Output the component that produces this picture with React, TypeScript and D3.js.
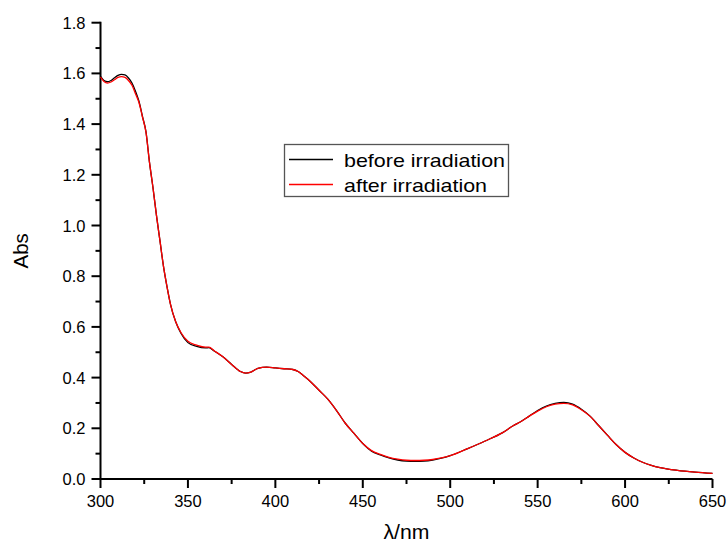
import React, { useEffect, useRef } from "react";
import * as d3 from "d3";

const wavelengths = [300,302,304,306,308,310,312,314,316,318,320,322,324,326,328,330,332,334,336,338,340,343,346,350,355,360,362,365,370,375,380,383,386,390,395,400,405,410,413,416,420,425,430,435,440,445,450,455,460,465,470,475,480,485,490,495,500,510,520,530,536,540,545,550,555,560,565,570,575,580,585,590,595,600,605,610,615,620,630,640,650];

const beforeAbs = [1.588,1.572,1.567,1.572,1.583,1.592,1.596,1.594,1.582,1.562,1.530,1.49,1.43,1.37,1.25,1.15,1.04,0.94,0.84,0.76,0.69,0.62,0.575,0.538,0.523,0.517,0.518,0.505,0.482,0.452,0.424,0.418,0.422,0.436,0.441,0.438,0.435,0.432,0.424,0.408,0.385,0.35,0.315,0.27,0.22,0.18,0.14,0.11,0.095,0.083,0.075,0.071,0.070,0.071,0.075,0.082,0.092,0.12,0.15,0.183,0.21,0.225,0.247,0.27,0.288,0.298,0.302,0.295,0.275,0.248,0.21,0.172,0.135,0.105,0.083,0.066,0.054,0.045,0.034,0.027,0.022];

const afterAbs = [1.585,1.568,1.562,1.566,1.575,1.584,1.587,1.584,1.572,1.553,1.52,1.485,1.428,1.368,1.25,1.15,1.04,0.94,0.84,0.76,0.69,0.62,0.578,0.543,0.528,0.52,0.52,0.506,0.482,0.452,0.424,0.418,0.422,0.436,0.441,0.438,0.435,0.432,0.424,0.408,0.385,0.35,0.315,0.27,0.22,0.18,0.14,0.112,0.097,0.085,0.078,0.074,0.073,0.074,0.077,0.083,0.092,0.12,0.15,0.183,0.21,0.225,0.247,0.268,0.285,0.295,0.298,0.292,0.273,0.247,0.21,0.172,0.135,0.105,0.083,0.066,0.054,0.045,0.034,0.027,0.022];

const xTicks = [300,350,400,450,500,550,600,650];
const xMinorTicks = [325,375,425,475,525,575,625];
const yTicks = [0.0,0.2,0.4,0.6,0.8,1.0,1.2,1.4,1.6,1.8];
const yMinorTicks = [0.1,0.3,0.5,0.7,0.9,1.1,1.3,1.5,1.7];
const seriesNames = ["before irradiation", "after irradiation"];
const seriesColors = ["#000000", "#ff0000"];

export default function App() {
  const ref = useRef<SVGSVGElement>(null);
  useEffect(() => {
    const svg = d3.select(ref.current);
    svg.selectAll("*").remove();
    const font = "'Liberation Sans', Arial, sans-serif";
    const x = d3.scaleLinear().domain([300, 650]).range([100.5, 712.5]);
    const y = d3.scaleLinear().domain([0, 1.8]).range([479, 22.7]);

    const g = svg.append("g");
    // x axis
    const xa = g.append("g").attr("transform", `translate(0,${y(0)})`);
    xa.append("line").attr("x1", x(300)).attr("x2", x(650)).attr("stroke", "#000").attr("stroke-width", 2);
    xTicks.forEach(t => {
      xa.append("line").attr("x1", x(t)).attr("x2", x(t)).attr("y1", 0).attr("y2", 9).attr("stroke", "#000").attr("stroke-width", 2);
      xa.append("text").attr("x", x(t)).attr("y", 28).attr("text-anchor", "middle")
        .attr("font-family", font).attr("font-size", 16.5).text(String(t));
    });
    xMinorTicks.forEach(t => {
      xa.append("line").attr("x1", x(t)).attr("x2", x(t)).attr("y1", 0).attr("y2", 5).attr("stroke", "#000").attr("stroke-width", 2);
    });
    // y axis
    const ya = g.append("g").attr("transform", `translate(${x(300)},0)`);
    ya.append("line").attr("y1", y(0) + 1).attr("y2", y(1.8) - 1).attr("stroke", "#000").attr("stroke-width", 2);
    yTicks.forEach(t => {
      ya.append("line").attr("x1", -9).attr("x2", 0).attr("y1", y(t)).attr("y2", y(t)).attr("stroke", "#000").attr("stroke-width", 2);
      ya.append("text").attr("x", -15).attr("y", y(t) + 6).attr("text-anchor", "end")
        .attr("font-family", font).attr("font-size", 16.5).text(t.toFixed(1));
    });
    yMinorTicks.forEach(t => {
      ya.append("line").attr("x1", -5).attr("x2", 0).attr("y1", y(t)).attr("y2", y(t)).attr("stroke", "#000").attr("stroke-width", 2);
    });

    // axis titles
    svg.append("text").attr("x", (x(300) + x(650)) / 2).attr("y", 539).attr("text-anchor", "middle")
      .attr("font-family", font).attr("font-size", 19.5).attr("textLength", 46).attr("lengthAdjust", "spacingAndGlyphs").text("λ/nm");
    svg.append("text").attr("transform", `translate(28,${(y(0) + y(1.8)) / 2}) rotate(-90)`)
      .attr("text-anchor", "middle").attr("font-family", font).attr("font-size", 20.5).text("Abs");

    // lines
    const line = d3.line<number>()
      .x((_, i) => x(wavelengths[i]))
      .y(d => y(d))
      .curve(d3.curveMonotoneX);
    [beforeAbs, afterAbs].forEach((s, i) => {
      svg.append("path").attr("d", line(s) as string).attr("fill", "none")
        .attr("stroke", seriesColors[i]).attr("stroke-width", 1.3);
    });

    // legend
    const lg = svg.append("g");
    lg.append("rect").attr("x", 284.5).attr("y", 144.5).attr("width", 224).attr("height", 52)
      .attr("fill", "#fff").attr("stroke", "#555").attr("stroke-width", 1.3);
    const legendLens = [161, 143];
    seriesNames.forEach((n, i) => {
      const ly = 159.5 + i * 25;
      lg.append("line").attr("x1", 289).attr("x2", 333).attr("y1", ly).attr("y2", ly)
        .attr("stroke", seriesColors[i]).attr("stroke-width", 1.3);
      lg.append("text").attr("x", 344).attr("y", ly + 7).attr("font-family", font)
        .attr("font-size", 19).attr("textLength", legendLens[i]).attr("lengthAdjust", "spacingAndGlyphs").text(n);
    });
  }, []);
  return (
    <svg ref={ref} width={728} height={542} style={{ position: "absolute", left: 0, top: 0, background: "#fff" }} />
  );
}
